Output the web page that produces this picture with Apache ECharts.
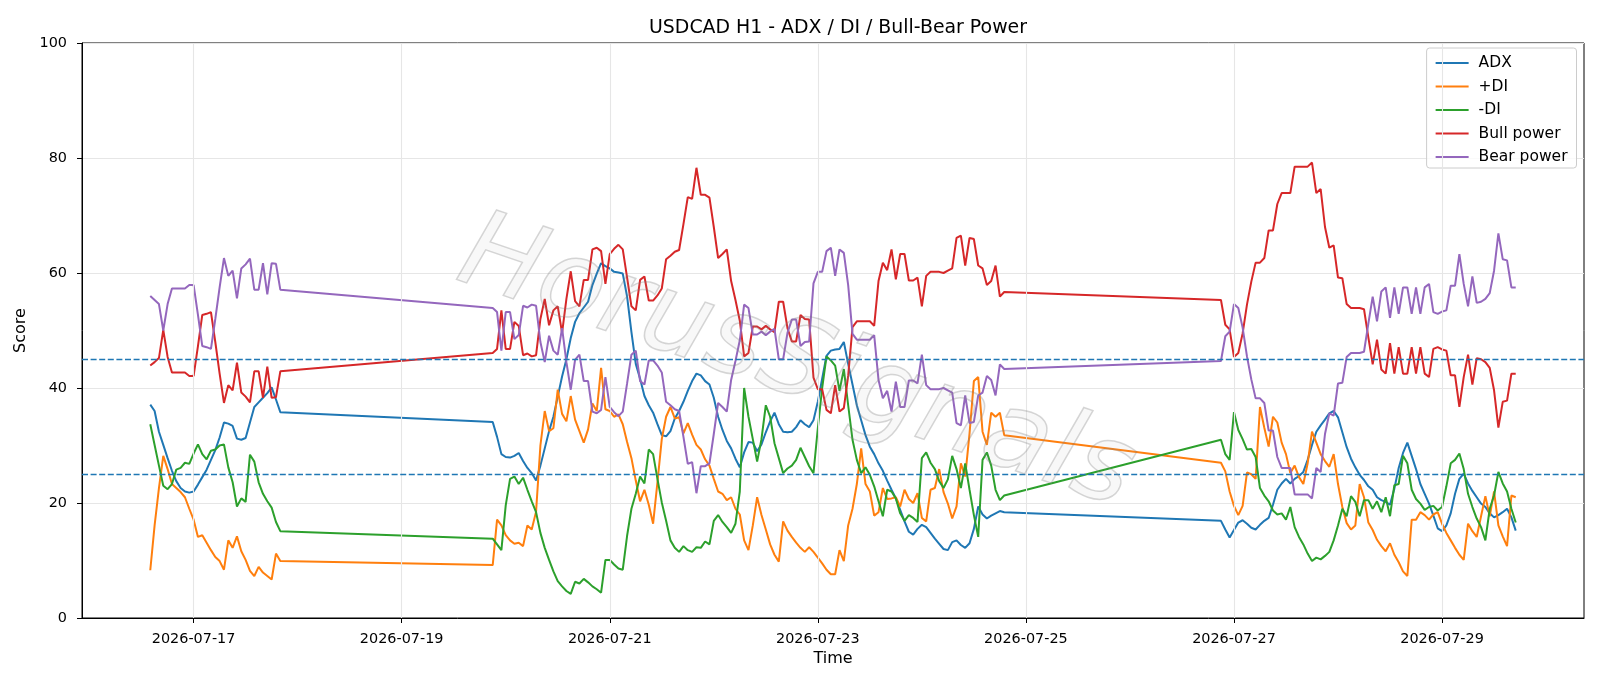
<!DOCTYPE html>
<html><head><meta charset="utf-8">
<script src="https://cdn.jsdelivr.net/npm/echarts@6/dist/echarts.min.js"></script>
<style>html,body{margin:0;padding:0;background:#fff}#chart{width:1600px;height:686px}</style>
</head><body><div id="chart"></div>
<script>
// ---- data (hourly bars, three trading segments) ----
const segmentStarts = ['2026-07-16T14:00:00Z', '2026-07-19T21:00:00Z', '2026-07-26T21:00:00Z'];
const segmentLengths = [31, 119, 69];
const xTickLabels = ['2026-07-17', '2026-07-19', '2026-07-21', '2026-07-23', '2026-07-25', '2026-07-27', '2026-07-29'];
const seriesNames = ['ADX', '+DI', '-DI', 'Bull power', 'Bear power'];
const refLevels = [45, 25];

const adx = [
  37.1, 36.0, 32.4, 30.1, 27.8, 25.6, 23.8, 22.6, 22.0, 21.8, 22.0, 23.2, 24.5, 25.8, 27.5, 29.2, 31.4, 34.0, 33.8, 33.4, 31.2, 31.0, 31.3, 34.0, 36.7, 37.5, 38.3, 39.1, 40.1, 38.0, 35.8,
  34.1, 31.5, 28.5, 28.0, 27.9, 28.2, 28.7, 27.3, 26.1, 25.2,
  23.9, 26.5, 29.5, 32.5, 35.0, 38.5, 42.0, 45.0, 48.7, 51.5,
  53.0, 54.0, 55.0, 57.9, 59.9, 61.7, 61.2, 60.8, 60.2, 60.1,
  59.9, 55.9, 49.7, 44.2, 41.6, 38.6, 37.0, 35.7, 33.7, 31.8,
  31.6, 32.5, 34.7, 36.0, 37.6, 39.5, 41.2, 42.5, 42.2, 41.2,
  40.6, 38.3, 35.0, 32.7, 30.8, 29.5, 27.7, 26.2, 28.8, 30.6,
  30.5, 29.0, 30.2, 32.3, 34.2, 35.7, 33.7, 32.4, 32.3, 32.4,
  33.2, 34.4, 33.7, 33.2, 34.4, 37.6, 41.6, 45.6, 46.5, 46.7,
  46.8, 48.0, 44.2, 40.6, 37.0, 34.4, 31.8, 29.8, 28.5, 26.9,
  25.6, 23.9, 22.3, 20.8, 18.8, 16.8, 15.0, 14.5, 15.5, 16.2,
  15.8, 14.8, 13.8, 12.9, 12.0, 11.8, 13.2, 13.5, 12.7, 12.2,
  13.0, 15.5, 19.4, 18.0, 17.3, 17.8, 18.2, 18.6, 18.4,
  16.9, 15.4, 14.0, 15.3, 16.6, 17.0, 16.4, 15.7, 15.4, 16.2,
  16.9, 17.4, 19.7, 22.3, 23.4, 24.2, 23.4, 24.2, 24.7, 25.4,
  27.5, 30.1, 32.4, 33.5, 34.5, 35.6, 36.0, 34.9, 32.3, 29.7,
  27.7, 26.2, 24.9, 24.0, 22.9, 22.3, 21.0, 20.5, 20.2, 19.7,
  22.5, 26.1, 28.7, 30.5, 28.2, 25.9, 23.3, 21.6, 19.9, 17.8,
  15.6, 15.1, 16.1, 18.2, 21.6, 24.2, 25.1, 23.4, 22.1, 21.0,
  19.9, 19.3, 18.2, 17.5, 17.9, 18.4, 19.0, 17.5, 15.2
];
const plusDI = [
  8.3, 16.1, 22.6, 28.2, 25.9, 23.3, 22.6, 21.9, 21.0, 19.0, 17.1, 14.1, 14.4, 13.1, 11.8, 10.6, 9.9, 8.4, 13.5, 12.2, 14.2, 11.6, 10.1, 8.2, 7.3, 8.9, 7.9, 7.3, 6.7, 11.2, 9.9,
  9.2, 17.1, 16.1, 14.4, 13.5, 12.9, 13.1, 12.5, 16.1, 15.4,
  18.5, 30.0, 36.0, 32.5, 33.0, 39.7, 35.5, 34.2, 38.6, 34.5,
  32.5, 30.5, 32.8, 37.3, 36.0, 43.5, 36.3, 36.0, 35.0, 35.4,
  33.7, 30.6, 27.8, 23.9, 20.3, 22.3, 19.7, 16.4, 23.6, 31.1,
  35.0, 36.7, 34.7, 34.9, 32.1, 33.9, 31.9, 30.1, 29.3, 27.6,
  26.5, 24.2, 22.0, 21.6, 20.5, 21.0, 19.0, 18.0, 13.5, 11.8,
  16.1, 21.0, 17.9, 15.4, 12.8, 11.0, 9.8, 16.8, 15.2, 14.1,
  13.1, 12.2, 11.5, 12.3, 11.5, 10.5, 9.5, 8.4, 7.6, 7.6,
  11.8, 9.9, 16.1, 19.0, 23.3, 29.5, 23.3, 22.0, 17.8, 18.4,
  22.6, 20.7, 20.8, 21.0, 19.4, 22.3, 20.7, 20.0, 21.7, 17.4,
  16.8, 22.3, 22.6, 25.9, 21.9, 19.9, 17.3, 19.4, 26.9, 24.6,
  32.1, 41.2, 41.9, 32.4, 30.1, 35.7, 35.0, 35.7, 31.8,
  27.0, 25.5, 22.0, 19.5, 17.9, 19.5, 25.3, 25.0, 24.2, 36.7,
  33.1, 29.8, 35.0, 34.0, 30.5, 28.5, 25.2, 26.5, 24.5, 23.3,
  26.9, 32.4, 30.5, 28.5, 27.3, 26.3, 28.5, 23.3, 19.3, 16.5,
  15.4, 16.1, 23.3, 21.0, 16.6, 15.3, 13.6, 12.5, 11.6, 13.0,
  11.0, 9.7, 8.1, 7.3, 17.1, 17.1, 18.4, 17.9, 17.1, 18.0,
  18.4, 16.4, 14.8, 13.5, 12.2, 11.0, 10.1, 16.4, 15.1, 14.1,
  17.7, 21.2, 17.7, 22.0, 16.1, 14.2, 12.5, 21.3, 21.0
];
const minusDI = [
  33.7, 30.1, 26.5, 23.0, 22.4, 23.3, 25.8, 26.1, 27.0, 26.8, 28.6, 30.2, 28.5, 27.6, 29.1, 29.3, 30.0, 30.2, 26.2, 23.6, 19.4, 20.8, 20.2, 28.4, 27.2, 23.6, 21.6, 20.3, 19.2, 16.7, 15.1,
  13.8, 12.8, 11.8, 19.6, 24.2, 24.6, 23.3, 24.4, 22.3, 20.3,
  18.4, 14.8, 12.2, 10.1, 8.1, 6.4, 5.5, 4.7, 4.2, 6.3,
  6.0, 6.8, 6.2, 5.5, 5.0, 4.4, 10.1, 10.1, 9.3, 8.6,
  8.4, 14.3, 19.0, 21.6, 24.6, 23.4, 29.3, 28.5, 24.2, 20.1,
  16.9, 13.5, 12.2, 11.5, 12.5, 11.8, 11.5, 12.3, 12.2, 13.3,
  12.8, 16.9, 17.9, 16.7, 15.8, 14.8, 16.4, 22.0, 40.0, 35.0,
  31.1, 27.2, 31.1, 37.0, 35.0, 30.4, 27.8, 25.2, 26.0, 26.5,
  27.5, 29.6, 28.0, 26.4, 25.2, 33.0, 40.0, 45.5, 44.8, 43.9,
  39.5, 43.3, 37.0, 31.0, 27.5, 25.2, 26.2, 24.9, 22.9, 20.3,
  17.7, 22.3, 22.0, 20.8, 18.2, 16.9, 17.9, 17.4, 16.7, 27.8,
  28.8, 27.0, 25.9, 23.8, 22.6, 24.1, 28.2, 25.9, 22.6, 26.9,
  22.3, 17.9, 14.1, 27.5, 28.8, 26.5, 22.3, 20.5, 21.3,
  31.0, 28.5, 27.5, 35.8, 32.7, 31.1, 29.3, 29.4, 28.0, 22.6,
  21.3, 20.3, 18.7, 18.0, 18.2, 17.1, 19.3, 15.8, 14.1, 12.8,
  11.2, 9.9, 10.5, 10.2, 10.8, 11.5, 13.5, 16.1, 19.0, 17.7,
  21.2, 20.2, 17.7, 20.5, 20.5, 19.0, 20.3, 18.4, 21.0, 17.7,
  23.1, 23.3, 28.2, 26.9, 22.3, 20.7, 19.9, 18.8, 19.3, 19.5,
  18.7, 19.3, 22.9, 26.9, 27.5, 28.6, 25.9, 21.6, 19.3, 17.3,
  15.8, 13.5, 19.0, 21.3, 25.4, 23.4, 22.0, 19.0, 16.6
];
const bullPower = [
  43.9, 44.5, 45.2, 50.1, 45.4, 42.7, 42.7, 42.7, 42.7, 42.1, 42.1, 47.3, 52.7, 52.9, 53.2, 48.0, 42.5, 37.4, 40.5, 39.6, 44.4, 39.2, 38.5, 37.5, 42.9, 42.9, 38.3, 43.7, 38.3, 38.4, 42.9,
  46.1, 46.8, 53.5, 46.8, 46.8, 51.5, 50.8, 45.7, 46.0, 45.5,
  45.7, 52.0, 55.5, 50.9, 53.5, 54.2, 49.6, 55.5, 60.3, 55.1,
  54.2, 58.8, 58.8, 64.1, 64.4, 63.8, 58.1, 63.3, 64.2, 64.9,
  64.1, 59.2, 54.2, 53.5, 58.8, 59.4, 55.2, 55.2, 56.1, 57.3,
  62.4, 63.0, 63.7, 64.0, 68.5, 73.2, 72.9, 78.3, 73.6, 73.6,
  73.1, 68.0, 62.6, 63.3, 64.1, 58.6, 55.3, 51.7, 45.5, 46.1,
  50.7, 50.7, 50.2, 50.8, 50.2, 49.7, 55.0, 55.0, 50.4, 48.1,
  48.1, 52.7, 52.0, 51.9, 41.8, 39.8, 39.8, 36.2, 35.6, 40.5,
  35.9, 36.5, 42.1, 50.6, 51.6, 51.6, 51.6, 51.6, 50.8, 58.6,
  61.8, 60.5, 64.1, 58.9, 63.3, 63.3, 58.7, 58.7, 59.2, 54.2,
  59.5, 60.2, 60.2, 60.2, 60.0, 60.4, 60.8, 66.1, 66.5, 61.3,
  66.1, 65.9, 61.3, 60.8, 57.9, 58.6, 61.3, 55.9, 56.7,
  55.3, 51.0, 50.2, 45.4, 46.1, 49.5, 54.5, 58.5, 61.8, 61.8,
  62.6, 67.4, 67.4, 72.0, 73.9, 73.9, 73.9, 78.5, 78.5, 78.5,
  78.5, 79.2, 73.9, 74.6, 68.0, 64.4, 64.8, 59.2, 59.1, 54.6,
  53.9, 53.9, 53.9, 53.7, 48.8, 44.1, 48.4, 43.2, 42.5, 47.8,
  42.5, 47.1, 42.5, 42.5, 47.1, 42.5, 47.1, 42.5, 41.9, 46.8,
  47.1, 46.7, 46.5, 42.2, 42.2, 36.7, 41.9, 45.8, 40.6, 45.2,
  45.0, 44.5, 43.5, 39.6, 33.1, 37.6, 37.8, 42.5, 42.5
];
const bearPower = [
  56.0, 55.3, 54.6, 50.0, 54.6, 57.3, 57.3, 57.3, 57.3, 57.9, 57.9, 52.7, 47.3, 47.1, 46.8, 52.0, 57.5, 62.6, 59.5, 60.4, 55.6, 60.8, 61.5, 62.5, 57.1, 57.1, 61.7, 56.3, 61.7, 61.6, 57.1,
  53.9, 53.2, 46.5, 53.2, 53.2, 48.5, 49.2, 54.3, 54.0, 54.5,
  54.3, 48.0, 44.5, 49.1, 46.5, 45.8, 50.4, 44.5, 39.7, 44.9,
  45.8, 41.2, 41.2, 35.9, 35.6, 36.2, 41.9, 36.7, 35.8, 35.1,
  35.9, 40.8, 45.8, 46.5, 41.2, 40.6, 44.8, 44.8, 43.9, 42.7,
  37.6, 37.0, 36.3, 36.0, 31.5, 26.8, 27.1, 21.7, 26.4, 26.4,
  26.9, 32.0, 37.4, 36.7, 35.9, 41.4, 44.7, 48.3, 54.5, 53.9,
  49.3, 49.3, 49.8, 49.2, 49.8, 50.3, 45.0, 45.0, 49.6, 51.9,
  51.9, 47.3, 48.0, 48.1, 58.2, 60.2, 60.2, 63.8, 64.4, 59.5,
  64.1, 63.5, 57.9, 49.4, 48.4, 48.4, 48.4, 48.4, 49.2, 41.4,
  38.2, 39.5, 35.9, 41.1, 36.7, 36.7, 41.3, 41.3, 40.8, 45.8,
  40.5, 39.8, 39.8, 39.8, 40.0, 39.6, 39.2, 33.9, 33.5, 38.7,
  33.9, 34.1, 38.7, 39.2, 42.1, 41.4, 38.7, 44.1, 43.3,
  44.7, 49.0, 49.8, 54.6, 53.9, 50.5, 45.5, 41.5, 38.2, 38.2,
  37.4, 32.6, 32.6, 28.0, 26.1, 26.1, 26.1, 21.5, 21.5, 21.5,
  21.5, 20.8, 26.1, 25.4, 32.0, 35.6, 35.2, 40.8, 40.9, 45.4,
  46.1, 46.1, 46.1, 46.3, 51.2, 55.9, 51.6, 56.8, 57.5, 52.2,
  57.5, 52.9, 57.5, 57.5, 52.9, 57.5, 52.9, 57.5, 58.1, 53.2,
  52.9, 53.3, 53.5, 57.8, 57.8, 63.3, 58.1, 54.2, 59.4, 54.8,
  55.0, 55.5, 56.5, 60.4, 66.9, 62.4, 62.2, 57.5, 57.5
];
const seriesColors = ['#1f77b4', '#ff7f0e', '#2ca02c', '#d62728', '#9467bd'];

// ---- build x positions (hours since 2026-07-17 00:00 UTC) ----
const BASE = Date.UTC(2026, 6, 17);
const hours = [];
segmentStarts.forEach((s, k) => {
  const h0 = (Date.parse(s) - BASE) / 3600000;
  for (let i = 0; i < segmentLengths[k]; i++) hours.push(h0 + i);
});
const tickHours = xTickLabels.map(d => (Date.parse(d + 'T00:00:00Z') - BASE) / 3600000);
const span = hours[hours.length - 1] - hours[0];
const xMin = hours[0] - 0.05 * span, xMax = hours[hours.length - 1] + 0.05 * span;

const valueSets = [adx, plusDI, minusDI, bullPower, bearPower];
const FONT = 'DejaVu Sans';

const series = seriesNames.map((name, k) => ({
  name, type: 'line', showSymbol: false, symbol: 'none', z: 3,
  data: hours.map((h, i) => [h, valueSets[k][i]]),
  lineStyle: { width: 2, color: seriesColors[k] }, itemStyle: { color: seriesColors[k] },
  animation: false
}));
series.unshift({
  name: 'grid-x', type: 'line', z: 1, data: [[hours[0], null]], showSymbol: false, silent: true,
  markLine: {
    silent: true, symbol: ['none', 'none'], label: { show: false }, animation: false,
    data: tickHours.map(h => ({ xAxis: h, lineStyle: { color: '#e6e6e6', width: 1.1, type: 'solid' } }))
  }
});
series.push({
  name: 'refs', type: 'line', z: 4, data: [[hours[0], null]], showSymbol: false, silent: true,
  markLine: {
    silent: true, symbol: ['none', 'none'], label: { show: false }, animation: false,
    data: refLevels.map(v => ({ yAxis: v, lineStyle: { color: '#1f77b4', width: 1.4, type: [6, 2.6] } }))
  }
});

const chart = echarts.init(document.getElementById('chart'), null, { renderer: 'canvas' });
chart.setOption({
  animation: false,
  backgroundColor: '#ffffff',
  textStyle: { fontFamily: FONT, color: '#000' },
  title: {
    text: 'USDCAD H1 - ADX / DI / Bull-Bear Power', left: 833, top: 14, textAlign: 'center',
    textStyle: { fontFamily: FONT, fontSize: 18.9, fontWeight: 'normal', color: '#000' }
  },
  grid: { left: 82, right: 16, top: 43, bottom: 68, show: true, borderColor: '#000', borderWidth: 1, backgroundColor: 'transparent' },
  legend: {
    data: seriesNames, orient: 'vertical', right: 23.5, top: 48, icon: 'rect', itemWidth: 33, itemHeight: 2,
    itemGap: 7.5, padding: [7, 9, 3, 9], backgroundColor: 'rgba(255,255,255,0.8)', borderColor: '#cccccc',
    borderWidth: 1, borderRadius: 3,
    textStyle: { fontFamily: FONT, fontSize: 15.5, color: '#000', padding: [0, 0, 0, 5] }
  },
  xAxis: {
    type: 'value', min: xMin, max: xMax,
    name: 'Time', nameLocation: 'middle', nameGap: 32,
    nameTextStyle: { fontFamily: FONT, fontSize: 16, color: '#000' },
    axisLine: { show: true, onZero: false, lineStyle: { color: '#000', width: 1 } },
    axisTick: { show: true, length: 5, customValues: tickHours, lineStyle: { color: '#000', width: 1 } },
    axisLabel: {
      customValues: tickHours, margin: 14, fontFamily: FONT, fontSize: 14.4, color: '#000',
      formatter: v => { const i = tickHours.indexOf(Math.round(v)); return i >= 0 ? xTickLabels[i] : ''; }
    },
    splitLine: { show: false }
  },
  yAxis: {
    type: 'value', min: 0, max: 100, interval: 20,
    name: 'Score', nameLocation: 'middle', nameGap: 44, nameRotate: 90,
    nameTextStyle: { fontFamily: FONT, fontSize: 16, color: '#000' },
    axisLine: { show: true, onZero: false, lineStyle: { color: '#000', width: 1 } },
    axisTick: { show: true, length: 5, lineStyle: { color: '#000', width: 1 } },
    axisLabel: { margin: 15, fontFamily: FONT, fontSize: 14.4, color: '#000' },
    splitLine: { show: true, lineStyle: { color: '#e6e6e6', width: 1.1 } }
  },
  graphic: [{
    type: 'text', x: 796, y: 366, rotation: -0.33, z: 100, silent: true,
    style: {
      text: 'HorusSignals', font: 'italic 200 108px "DejaVu Sans"', textAlign: 'center', textVerticalAlign: 'middle',
      fill: 'rgba(160,160,160,0.07)', stroke: 'rgba(130,130,130,0.32)', lineWidth: 1.5
    }
  }],
  series
});
</script></body></html>
